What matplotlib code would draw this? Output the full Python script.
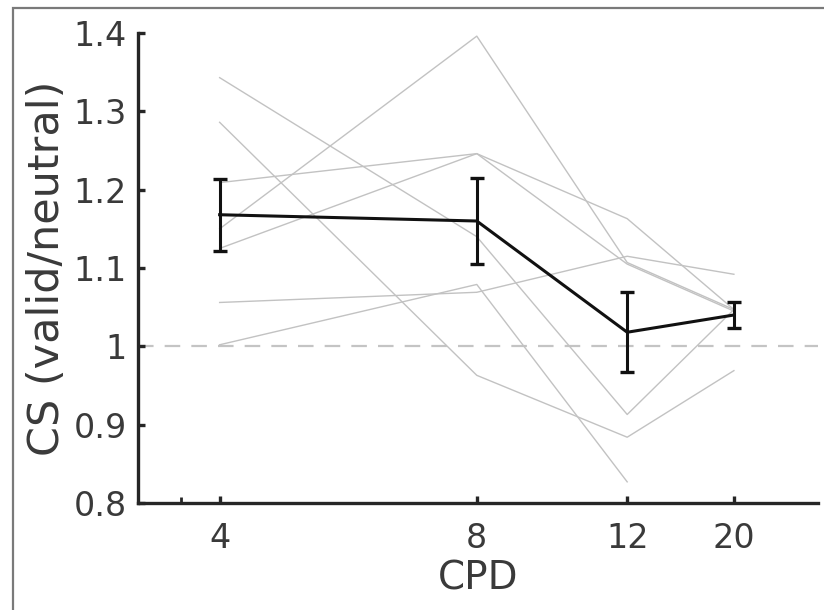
import numpy as np
import matplotlib
matplotlib.use('Agg')
import matplotlib.pyplot as plt
from matplotlib.patches import Rectangle
from matplotlib.ticker import FixedLocator, NullFormatter

# spatial frequencies (plot positions) and their tick labels
cpd_pos = [4, 8, 12, 16]
cpd_labels = ['4', '8', '12', '20']

# individual observers, CS ratio valid/neutral (nan = not measured)
obs_a = [1.343, 1.140, 0.913, 1.047]
obs_b = [1.286, 0.963, 0.884, 0.969]
obs_c = [1.150, 1.396, 1.107, 1.047]
obs_d = [1.002, 1.079, 0.827, np.nan]
obs_e = [1.056, 1.069, 1.115, 1.092]
obs_f = [1.209, 1.246, 1.163, 1.047]
obs_g = [1.125, 1.246, 1.105, 1.045]

# group mean and error bars
mean_cs = [1.168, 1.160, 1.018, 1.040]
err_cs = [0.046, 0.055, 0.051, 0.017]

fig = plt.figure(figsize=(8.24, 6.10), dpi=100)
ax = fig.add_axes([0.1675, 0.1754, 0.8252, 0.7705])

# grey frame around the figure
fig.patches.append(Rectangle((13 / 824, -0.1), 1.2, (610 - 8) / 610 + 0.1,
                             transform=fig.transFigure, fill=False,
                             edgecolor='#7a7a7a', linewidth=1.6))

ax.set_xscale('log', base=2)
ax.axhline(1.0, color='#c4c4c4', linewidth=1.6, dashes=(7, 5), zorder=1)

for obs in [obs_a, obs_b, obs_c, obs_d, obs_e, obs_f, obs_g]:
    ax.plot(cpd_pos, obs, color='#c2c2c2', linewidth=1.0, zorder=2)

ax.errorbar(cpd_pos, mean_cs, yerr=err_cs, color='#111111', linewidth=2.2,
            elinewidth=2.2, capsize=5, capthick=2.4, zorder=3)

ax.set_xlim(3.21, 20.07)
ax.set_ylim(0.8, 1.4)
ax.xaxis.set_major_locator(FixedLocator(cpd_pos))
ax.xaxis.set_minor_locator(FixedLocator([3.6]))
ax.xaxis.set_minor_formatter(NullFormatter())
ax.set_xticklabels(cpd_labels)
ax.set_yticks([0.8, 0.9, 1.0, 1.1, 1.2, 1.3, 1.4])
ax.set_yticklabels(['0.8', '0.9', '1', '1.1', '1.2', '1.3', '1.4'])

for side in ['top', 'right']:
    ax.spines[side].set_visible(False)
for side in ['left', 'bottom']:
    ax.spines[side].set_linewidth(2.4)
    ax.spines[side].set_color('#262626')

ax.tick_params(axis='both', which='major', direction='in', length=5, width=2.4,
               color='#262626', labelsize=24, labelcolor='#3a3a3a', pad=8)
ax.tick_params(axis='x', which='major', pad=14)
ax.tick_params(axis='x', which='minor', direction='in', length=4, width=2.0,
               color='#262626')

ax.set_xlabel('CPD', fontsize=28, color='#3a3a3a', labelpad=3)
ax.set_ylabel('CS (valid/neutral)', fontsize=31, color='#3a3a3a', labelpad=4)

fig.savefig('out.png', dpi=100)
